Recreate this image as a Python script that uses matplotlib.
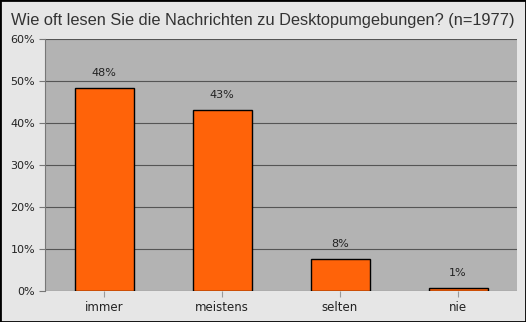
import matplotlib.pyplot as plt
from matplotlib.ticker import FuncFormatter

kategorien = ["immer", "meistens", "selten", "nie"]
anteile = [48.3, 43.1, 7.6, 0.6]
y_ticks = [0, 10, 20, 30, 40, 50, 60]

fig = plt.figure(figsize=(5.26, 3.22), dpi=100, facecolor="#e6e6e6")
ax = fig.add_axes([45 / 526, 31 / 322, 472 / 526, 252 / 322])
ax.set_facecolor("#b3b3b3")

x = range(len(kategorien))
ax.bar(x, anteile, width=0.5, color="#ff6309", edgecolor="black", linewidth=1, zorder=3)
for xi, v in zip(x, anteile):
    ax.text(xi, v + 2.4, f"{round(v)}%", ha="center", va="bottom", fontsize=8, color="#222222")

ax.set_xlim(-0.5, 3.5)
ax.set_ylim(0, 60)
ax.set_xticks(list(x))
ax.set_xticklabels(kategorien, fontsize=8.5, color="#222222")
ax.set_yticks(y_ticks)
ax.yaxis.set_major_formatter(FuncFormatter(lambda v, p: f"{v:.0f}%"))
ax.tick_params(axis="y", labelsize=8, colors="#222222", color="#777777", length=4, pad=3)
ax.tick_params(axis="x", color="#999999", length=4, pad=3)
ax.yaxis.grid(True, color="#555555", linewidth=0.8, zorder=0)
for side in ["top", "right", "bottom"]:
    ax.spines[side].set_visible(False)
ax.spines["left"].set_color("#777777")

fig.text(11 / 526, 1 - 21 / 322, "Wie oft lesen Sie die Nachrichten zu Desktopumgebungen? (n=1977)",
         fontsize=11.75, family="Liberation Sans", color="#333333", va="center", ha="left")

# schwarzer Rahmen um die ganze Grafik
fig.patches.append(plt.Rectangle((0, 0), 1, 1, transform=fig.transFigure, fill=False,
                                 edgecolor="black", linewidth=2))

fig.savefig("out.png", dpi=100, facecolor=fig.get_facecolor())
